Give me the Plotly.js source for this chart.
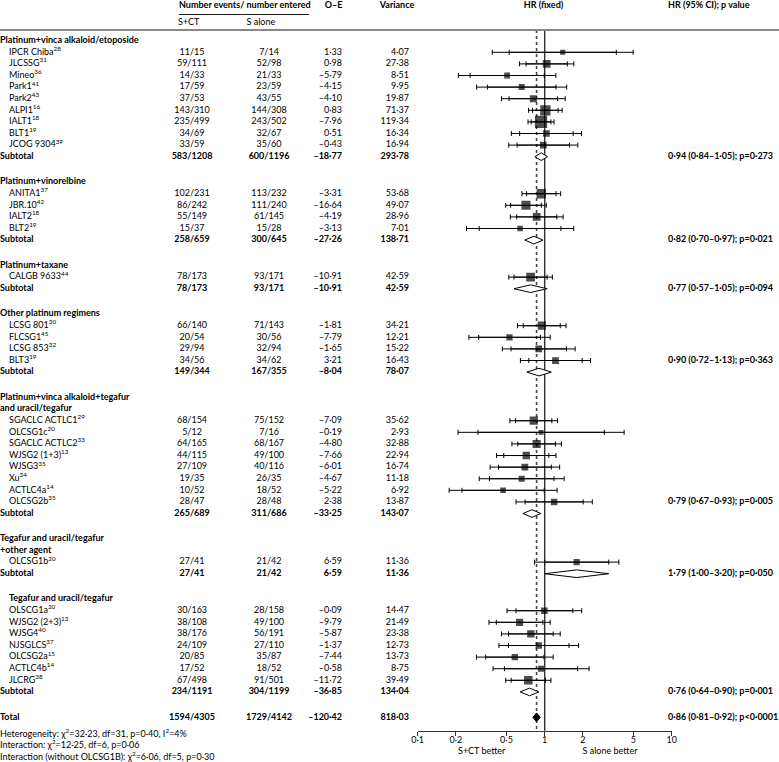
<!DOCTYPE html>
<html><head><meta charset="utf-8">
<script src="https://cdn.plot.ly/plotly-3.0.1.min.js"></script>
<style>html,body{margin:0;padding:0;background:#fff}#chart{width:779px;height:762px}</style>
</head><body><div id="chart"></div>
<script>
// ---------------- DATA ----------------
const groupTitles = [
  ['Platinum+vinca alkaloid/etoposide'],
  ['Platinum+vinorelbine'],
  ['Platinum+taxane'],
  ['Other platinum regimens'],
  ['Platinum+vinca alkaloid+tegafur', 'and uracil/tegafur'],
  ['Tegafur and uracil/tegafur', '+other agent'],
  ['Tegafur and uracil/tegafur']
];
const studyNames = ['IPCR Chiba','JLCSSG','Mineo','Park1','Park2','ALPI1','IALT1','BLT1','JCOG 9304',
  'ANITA1','JBR.10','IALT2','BLT2',
  'CALGB 9633',
  'LCSG 801','FLCSG1','LCSG 853','BLT3',
  'SGACLC ACTLC1','OLCSG1c','SGACLC ACTLC2','WJSG2 (1+3)','WJSG3','Xu','ACTLC4a','OLCSG2b',
  'OLCSG1b',
  'OLSCG1a','WJSG2 (2+3)','WJSG4','NJSGLCS','OLCSG2a','ACTLC4b','JLCRG'];
const studyRefs = ['28','31','36','41','43','16','18','19','39',
  '37','42','18','19',
  '44',
  '30','45','32','19',
  '29','20','33','13','35','34','14','35',
  '20',
  '20','13','40','37','15','14','38'];
const studyGroup = [0,0,0,0,0,0,0,0,0, 1,1,1,1, 2, 3,3,3,3, 4,4,4,4,4,4,4,4, 5, 6,6,6,6,6,6,6];
const sctEvents  = [11,59,14,17,37,143,235,34,33, 102,86,55,15, 78, 66,20,29,34, 68,5,64,44,27,19,10,28, 27, 30,38,38,24,20,17,67];
const sctEntered = [15,111,33,59,53,310,499,69,59, 231,242,149,37, 173, 140,54,94,56, 154,12,165,115,109,35,52,47, 41, 163,108,176,109,85,52,498];
const saEvents   = [7,52,21,23,43,144,243,32,35, 113,111,61,15, 93, 71,30,32,34, 75,7,68,49,40,26,18,28, 21, 28,49,56,27,35,18,91];
const saEntered  = [14,98,33,59,55,308,502,67,60, 232,240,145,28, 171, 143,56,94,62, 152,16,167,100,116,35,52,48, 42, 158,100,191,110,87,52,501];
const oMinusE = [1.33,0.98,-5.79,-4.15,-4.10,0.83,-7.96,0.51,-0.43, -3.31,-16.64,-4.19,-3.13, -10.91, -1.81,-7.79,-1.65,3.21, -7.09,-0.19,-4.80,-7.66,-6.01,-4.67,-5.22,2.38, 6.59, -0.09,-9.79,-5.87,-1.37,-7.44,-0.58,-11.72];
const variance = [4.07,27.38,8.51,9.95,19.87,71.37,119.34,16.34,16.94, 53.68,49.07,28.96,7.01, 42.59, 34.21,12.21,15.22,16.43, 35.62,2.93,32.88,22.94,16.74,11.18,6.92,13.87, 11.36, 14.47,21.49,23.38,12.73,13.73,8.75,39.49];
const hr   = [1.387,1.036,0.506,0.659,0.814,1.012,0.936,1.032,0.975, 0.940,0.712,0.865,0.640, 0.774, 0.949,0.528,0.897,1.216, 0.820,0.937,0.864,0.716,0.698,0.659,0.470,1.187, 1.786, 0.994,0.634,0.778,0.898,0.582,0.936,0.743];
const lo95 = [0.525,0.713,0.259,0.354,0.524,0.802,0.782,0.635,0.606, 0.720,0.539,0.601,0.305, 0.573, 0.678,0.302,0.543,0.750, 0.590,0.298,0.614,0.476,0.433,0.367,0.223,0.701, 0.999, 0.594,0.416,0.519,0.518,0.343,0.482,0.544];
const hi95 = [3.663,1.507,0.992,1.227,1.263,1.276,1.119,1.676,1.570, 1.229,0.942,1.246,1.342, 1.045, 1.326,0.926,1.483,1.972, 1.138,2.945,1.216,1.078,1.128,1.184,0.991,2.009, 3.195, 1.664,0.968,1.167,1.555,0.987,1.816,1.015];
const lo99 = [0.387,0.634,0.209,0.291,0.457,0.746,0.739,0.546,0.521, 0.662,0.493,0.536,0.242, 0.522, 0.611,0.253,0.464,0.644, 0.532,0.208,0.552,0.418,0.372,0.305,0.177,0.595, 0.832, 0.505,0.364,0.457,0.436,0.290,0.392,0.493];
const hi99 = [4.971,1.696,1.225,1.491,1.450,1.372,1.184,1.951,1.823, 1.336,1.029,1.397,1.693, 1.149, 1.473,1.104,1.737,2.295, 1.262,4.221,1.354,1.226,1.311,1.423,1.252,2.371, 3.836, 1.956,1.105,1.325,1.849,1.166,2.236,1.120];

const subSctEvents  = [583,258,78,149,265,27,234];
const subSctEntered = [1208,659,173,344,689,41,1191];
const subSaEvents   = [600,300,93,167,311,21,304];
const subSaEntered  = [1196,645,171,355,686,42,1199];
const subOminusE = [-18.77,-27.26,-10.91,-8.04,-33.25,6.59,-36.85];
const subVariance = [293.78,138.71,42.59,78.07,143.07,11.36,134.04];
const subHR = [0.938,0.822,0.774,0.902,0.793,1.786,0.760];
const subLo = [0.837,0.696,0.573,0.723,0.673,0.999,0.641];
const subHi = [1.052,0.970,1.045,1.126,0.934,3.195,0.900];
const subLabel = ['0·94 (0·84–1·05); p=0·273','0·82 (0·70–0·97); p=0·021','0·77 (0·57–1·05); p=0·094',
  '0·90 (0·72–1·13); p=0·363','0·79 (0·67–0·93); p=0·005','1·79 (1·00–3·20); p=0·050','0·76 (0·64–0·90); p=0·001'];

const totalSct = [1594, 4305];
const totalSa = [1729, 4142];
const totalOminusE = -120.42;
const totalVariance = 818.03;
const totalHR = [0.863, 0.806, 0.924];
const totalLabel = '0·86 (0·81–0·92); p<0·0001';

const footnotes = ['Heterogeneity: χ<sup>2</sup>=32·23, df=31, p=0·40, I<sup>2</sup>=4%',
  'Interaction: χ<sup>2</sup>=12·25, df=6, p=0·06',
  'Interaction (without OLCSG1B): χ<sup>2</sup>=6·06, df=5, p=0·30'];
const axisTicks = [0.1, 0.2, 0.5, 1, 2, 5, 10];
const axisTickText = ['0·1','0·2','0·5','1','2','5','10'];

// ---------------- LAYOUT HELPERS ----------------
const W = 779, H = 762;
const ROW_PX = 11.6, ROW0_PX = 40.7;          // pixel of first row, pixels per row unit
const uOf = p => (p - ROW0_PX) / ROW_PX;      // pixel -> row unit
const BLANK = 1.19;
const labelShift = [0,0,0,-1,-1,0,0];          // where the group HR text sits relative to the subtotal row
const FONT = 'Lato, "Open Sans", sans-serif';
const FS = 9;
const X_LABEL = 0, X_INDENT = 9, X_SCT = 192, X_SA = 269, X_OE = 342, X_VAR = 409, X_HRTXT = 668;

const fmt = v => (v < 0 ? '–' : '') + Math.abs(v).toFixed(2).replace('.', '·');
const b = s => '<b>' + s + '</b>';

const cols = {
  lab: {x:[],y:[],t:[]}, sct:{x:[],y:[],t:[]}, sa:{x:[],y:[],t:[]},
  oe:{x:[],y:[],t:[]}, vr:{x:[],y:[],t:[]}, hrt:{x:[],y:[],t:[]}
};
const push = (c, x, y, t) => { c.x.push(x); c.y.push(y); c.t.push(t); };

const studyY = [];
const diamonds = [];
let u = 0, si = 0;
groupTitles.forEach((titles, g) => {
  titles.forEach(t => { push(cols.lab, g === 6 ? X_INDENT : X_LABEL, u, b(t)); u += 1; });
  while (si < studyNames.length && studyGroup[si] === g) {
    push(cols.lab, X_INDENT, u, studyNames[si] + '<sup>' + studyRefs[si] + '</sup>');
    push(cols.sct, X_SCT, u, sctEvents[si] + '/' + sctEntered[si]);
    push(cols.sa, X_SA, u, saEvents[si] + '/' + saEntered[si]);
    push(cols.oe, X_OE, u, fmt(oMinusE[si]));
    push(cols.vr, X_VAR, u, fmt(variance[si]));
    studyY.push(u);
    u += 1; si += 1;
  }
  push(cols.lab, X_LABEL, u, b('Subtotal'));
  push(cols.sct, X_SCT, u, b(subSctEvents[g] + '/' + subSctEntered[g]));
  push(cols.sa, X_SA, u, b(subSaEvents[g] + '/' + subSaEntered[g]));
  push(cols.oe, X_OE, u, b(fmt(subOminusE[g])));
  push(cols.vr, X_VAR, u, b(fmt(subVariance[g])));
  push(cols.hrt, X_HRTXT, u + labelShift[g], b(subLabel[g]));
  diamonds.push({lo: subLo[g], m: subHR[g], hi: subHi[g], y: u, h: 0.33, fill: '#ffffff'});
  u += 1 + BLANK;
});
push(cols.lab, X_LABEL, u, b('Total'));
push(cols.sct, X_SCT, u, b(totalSct[0] + '/' + totalSct[1]));
push(cols.sa, X_SA, u, b(totalSa[0] + '/' + totalSa[1]));
push(cols.oe, X_OE, u, b(fmt(totalOminusE)));
push(cols.vr, X_VAR, u, b(fmt(totalVariance)));
push(cols.hrt, X_HRTXT, u, b(totalLabel));
diamonds.push({lo: totalHR[1], m: totalHR[0], hi: totalHR[2], y: u, h: 0.38, fill: '#000000'});

const footY = [uOf(735), uOf(746), uOf(757.3)];

const textTrace = (c, pos, extra) => Object.assign({
  type: 'scatter', mode: 'text', x: c.x, y: c.y, text: c.t, textposition: pos,
  textfont: {family: FONT, size: FS, color: '#000'}, xaxis: 'x', yaxis: 'y',
  hoverinfo: 'skip', cliponaxis: false
}, extra || {});

const traces = [];
traces.push(textTrace(cols.lab, 'middle right'));
traces.push(textTrace(cols.sct, 'middle center'));
traces.push(textTrace(cols.sa, 'middle center'));
traces.push(textTrace(cols.oe, 'middle left'));
traces.push(textTrace(cols.vr, 'middle left'));
traces.push(textTrace(cols.hrt, 'middle right'));
// headers
const yH1 = uOf(5.5), yH2 = uOf(22.3);
traces.push(textTrace({x:[179], y:[yH1], t:[b('Number events/ number entered')]}, 'middle right'));
traces.push(textTrace({x:[333.5, 397, 543.5], y:[yH1,yH1,yH1], t:[b('O–E'), b('Variance'), b('HR (fixed)')]}, 'middle center'));
traces.push(textTrace({x:[668], y:[yH1], t:[b('HR (95% CI); p value')]}, 'middle right'));
traces.push(textTrace({x:[178, 246.5], y:[yH2, yH2], t:['S+CT', 'S alone']}, 'middle right'));
// footnotes
traces.push(textTrace({x:[0,0,0], y:footY, t:footnotes}, 'middle right'));
// axis side labels
traces.push(textTrace({x:[481.7, 610], y:[uOf(752), uOf(752)], t:['S+CT better', 'S alone better']}, 'middle center'));
// tick labels of the HR axis, placed through the log axis
traces.push({type:'scatter', mode:'text', x: axisTicks, y: axisTicks.map(() => uOf(740.5)), text: axisTickText,
  textposition:'middle center', textfont:{family: FONT, size: FS, color:'#000'}, xaxis:'x2', yaxis:'y',
  hoverinfo:'skip', cliponaxis:false});

// reference lines on forest axis
const yTopLine = uOf(30), yAxis = uOf(730.7);
traces.push({type:'scatter', mode:'lines', x:[1,1], y:[yTopLine, yAxis], xaxis:'x2', yaxis:'y',
  line:{color:'#333', width:1.4}, hoverinfo:'skip'});
traces.push({type:'scatter', mode:'lines', x:[totalHR[0], totalHR[0]], y:[yTopLine, yAxis], xaxis:'x2', yaxis:'y',
  line:{color:'#444', width:1.6, dash:'dot'}, hoverinfo:'skip'});

// 95% CI ticks
traces.push({type:'scatter', mode:'markers', x: hr, y: studyY, xaxis:'x2', yaxis:'y',
  marker:{size:1, color:'rgba(0,0,0,0)'}, hoverinfo:'skip',
  error_x:{type:'data', symmetric:false, array: hi95.map((v,i)=>v-hr[i]), arrayminus: hr.map((v,i)=>v-lo95[i]),
    color:'#000', thickness:1, width:2.5}});
// 99% CI with squares
traces.push({type:'scatter', mode:'markers', x: hr, y: studyY, xaxis:'x2', yaxis:'y',
  marker:{symbol:'square', size: variance.map(v => 3.5 + 0.8*Math.sqrt(v)), color:'#000', line:{width:0}},
  hoverinfo:'skip',
  error_x:{type:'data', symmetric:false, array: hi99.map((v,i)=>v-hr[i]), arrayminus: hr.map((v,i)=>v-lo99[i]),
    color:'#000', thickness:1, width:2.5}});
// diamonds
diamonds.forEach(d => {
  traces.push({type:'scatter', mode:'lines', x:[d.lo, d.m, d.hi, d.m, d.lo], y:[d.y, d.y-d.h, d.y, d.y+d.h, d.y],
    xaxis:'x2', yaxis:'y', fill:'toself', fillcolor:d.fill, line:{color:'#000', width:1}, hoverinfo:'skip'});
});

const layout = {
  width: W, height: H, margin: {l:0, r:0, t:0, b:0, pad:0},
  paper_bgcolor:'#fff', plot_bgcolor:'rgba(0,0,0,0)', showlegend:false,
  font: {family: FONT, size: FS, color:'#000'},
  xaxis: {domain:[0,1], range:[0, W], visible:false, fixedrange:true},
  yaxis: {domain:[0,1], range:[uOf(H), uOf(0)], visible:false, fixedrange:true},
  xaxis2: {domain:[417.7/W, 671.7/W], type:'log', range:[-1, 1], anchor:'free', position:(H-730.7)/H,
    showgrid:false, zeroline:false, showline:true, linecolor:'#333', linewidth:1.3,
    ticks:'outside', ticklen:4, tickcolor:'#333', tickwidth:1,
    tickvals: axisTicks, showticklabels:false, fixedrange:true},
  shapes: [
    {type:'line', xref:'paper', yref:'paper', x0:0, x1:1, y0:1-30/H, y1:1-30/H, line:{color:'#888', width:2}},
    {type:'line', xref:'paper', yref:'paper', x0:179/W, x1:309/W, y0:1-14.5/H, y1:1-14.5/H, line:{color:'#222', width:1}}
  ]
};
Plotly.newPlot('chart', traces, layout, {staticPlot:true, displayModeBar:false});
</script></body></html>
